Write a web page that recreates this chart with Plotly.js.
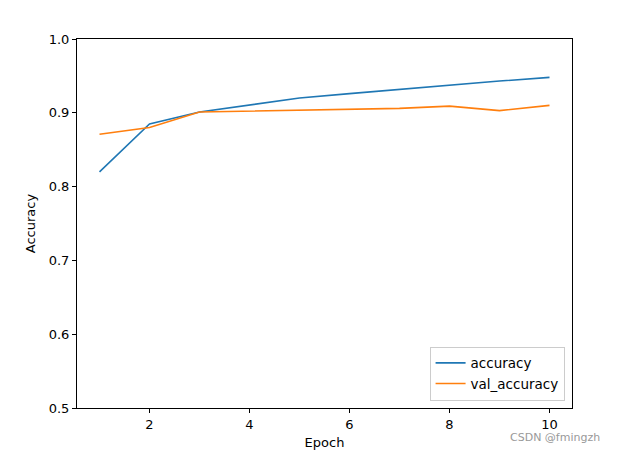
<!DOCTYPE html>
<html>
<head>
<meta charset="utf-8">
<script src="https://cdn.plot.ly/plotly-3.0.1.min.js"></script>
<style>html,body{margin:0;padding:0;background:#fff;}#chart{width:617px;height:455px;}</style>
</head>
<body>
<div id="chart"></div>
<script>
const epochs = [1, 2, 3, 4, 5, 6, 7, 8, 9, 10];
const accuracy = [0.820, 0.885, 0.901, 0.911, 0.920, 0.926, 0.932, 0.937, 0.943, 0.948];
const valAccuracy = [0.871, 0.880, 0.901, 0.902, 0.903, 0.905, 0.906, 0.909, 0.903, 0.910];
const xTicks = [2, 4, 6, 8, 10];
const yTicks = [0.5, 0.6, 0.7, 0.8, 0.9, 1.0];

const font = {family: 'DejaVu Sans, sans-serif', size: 13, color: '#000'};
const traces = [
  {x: epochs, y: accuracy, name: 'accuracy', mode: 'lines', line: {color: '#1f77b4', width: 1.6}},
  {x: epochs, y: valAccuracy, name: 'val_accuracy', mode: 'lines', line: {color: '#ff7f0e', width: 1.6}}
];
const axisCommon = {
  showline: true, mirror: true, linecolor: '#000', linewidth: 1,
  ticks: 'outside', ticklen: 4, tickcolor: '#000', tickwidth: 1,
  showgrid: false, zeroline: false, tickfont: font
};
const layout = {
  width: 617, height: 455,
  margin: {l: 77, r: 45, t: 39, b: 47},
  paper_bgcolor: '#fff', plot_bgcolor: '#fff',
  font: font,
  showlegend: true,
  xaxis: Object.assign({}, axisCommon, {
    range: [0.55, 10.45], tickvals: xTicks, ticktext: xTicks.map(String),
    title: {text: 'Epoch', font: font, standoff: 7}
  }),
  yaxis: Object.assign({}, axisCommon, {
    range: [0.5, 1.0], tickvals: yTicks, ticktext: yTicks.map(v => v.toFixed(1)),
    title: {text: 'Accuracy', font: font, standoff: 10}
  }),
  legend: {
    x: 0.985, y: 0.02, xanchor: 'right', yanchor: 'bottom',
    bordercolor: '#cccccc', borderwidth: 1, bgcolor: 'rgba(255,255,255,0.8)',
    font: {family: 'DejaVu Sans, sans-serif', size: 13.5, color: '#000'}, tracegroupgap: 0, itemwidth: 30
  },
  annotations: [{
    text: 'CSDN @fmingzh', xref: 'paper', yref: 'paper',
    x: 1.0606, y: -0.0813, xanchor: 'right', yanchor: 'middle',
    showarrow: false, font: {family: 'DejaVu Sans, sans-serif', size: 11, color: '#999'}
  }]
};
Plotly.newPlot('chart', traces, layout, {displayModeBar: false, staticPlot: true});
</script>
</body>
</html>
